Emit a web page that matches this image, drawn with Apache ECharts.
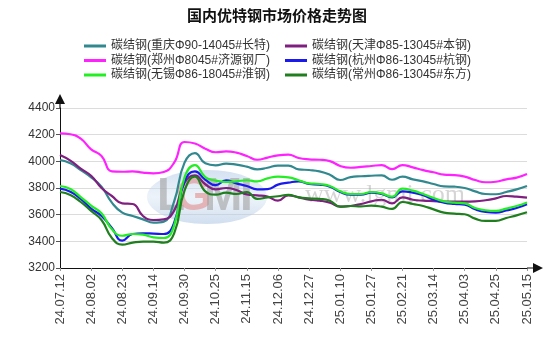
<!DOCTYPE html>
<html>
<head>
<meta charset="utf-8">
<script src="https://cdn.jsdelivr.net/npm/echarts@6/dist/echarts.min.js"></script>
<style>
  html, body { margin: 0; padding: 0; background: #fff; }
  #chart { width: 554px; height: 347px; }
</style>
</head>
<body>
<div id="chart"></div>
<script>
// Date labels on the x axis, one every three samples
const tickLabels = ['24.07.12','24.08.02','24.08.23','24.09.14','24.09.30','24.10.25','24.11.15','24.12.06',
  '24.12.27','25.01.10','25.01.27','25.02.21','25.03.14','25.04.03','25.04.25','25.05.15'];
const samplesPerTick = 3;

const seriesNames = [
  '碳结钢(重庆Φ90-14045#长特)',
  '碳结钢(天津Φ85-13045#本钢)',
  '碳结钢(郑州Φ8045#济源钢厂)',
  '碳结钢(杭州Φ86-13045#杭钢)',
  '碳结钢(无锡Φ86-18045#淮钢)',
  '碳结钢(常州Φ86-13045#东方)'
];

// Prices (元/吨)
const chongqing = [4010,3985,3935,3880,3810,3690,3615,3590,3565,3540,3548,3700,3990,4062,3985,3970,
  3983,3975,3960,3940,3952,3968,3968,3940,3935,3925,3900,3860,3882,3888,3892,3895,3862,3885,3865,3850,
  3830,3812,3810,3800,3775,3755,3753,3770,3790,3815];
const tianjin = [4047,4005,3945,3892,3800,3740,3685,3680,3590,3560,3565,3630,3840,3895,3828,3790,
  3800,3785,3752,3745,3735,3705,3745,3730,3712,3705,3690,3660,3665,3680,3700,3712,3685,3730,3712,3705,
  3702,3698,3698,3698,3700,3708,3722,3740,3735,3728];
const zhengzhou = [4210,4203,4170,4090,4040,3925,3922,3925,3915,3910,3920,3990,4145,4134,4095,4068,
  4075,4065,4040,4012,4028,4045,4050,4025,4015,4012,4002,3965,3952,3958,3965,3972,3942,3972,3955,3934,
  3918,3900,3897,3885,3860,3843,3847,3865,3878,3905];
const hangzhou = [3795,3772,3718,3645,3590,3500,3405,3455,3460,3458,3455,3540,3850,3925,3862,3822,
  3858,3835,3815,3790,3792,3825,3840,3850,3830,3825,3810,3770,3750,3750,3765,3755,3730,3775,3765,3745,
  3712,3690,3680,3675,3640,3620,3615,3632,3650,3678];
const wuxi = [3815,3792,3732,3668,3610,3490,3442,3455,3450,3430,3425,3520,3880,3972,3882,3855,
  3845,3850,3858,3850,3872,3885,3880,3858,3835,3830,3815,3775,3755,3755,3770,3760,3735,3795,3780,3755,
  3725,3700,3690,3685,3650,3633,3628,3645,3665,3692];
const changzhou = [3770,3748,3695,3628,3560,3425,3375,3390,3398,3398,3390,3460,3780,3885,3775,3750,
  3765,3755,3770,3718,3730,3738,3748,3730,3722,3718,3705,3660,3665,3662,3668,3660,3643,3695,3680,3665,
  3640,3615,3608,3603,3570,3553,3553,3575,3595,3618];

const seriesValues = [chongqing, tianjin, zhengzhou, hangzhou, wuxi, changzhou];
const seriesColors = ['#31898f', '#7f1f7f', '#ff22ff', '#1a1aee', '#22ee22', '#1f7f1f'];

const yTicks = { min: 3200, max: 4400, step: 200 };

const fontLatin = '"Liberation Sans", Arial, "Noto Sans CJK SC", sans-serif';

const chart = echarts.init(document.getElementById('chart'), null, { renderer: 'canvas' });

const series = seriesValues.map((vals, k) => ({
  name: seriesNames[k],
  type: 'line',
  smooth: true,
  showSymbol: false,
  symbol: 'none',
  data: vals.map((v, i) => [i, v]),
  lineStyle: { color: seriesColors[k], width: 2.2 },
  itemStyle: { color: seriesColors[k] },
  z: 3 + k
}));

// Arrowheads with a short stem, drawn at the far end of each axis line
const arrowX = 'path://M5,0L10,10L5.6,10L5.6,16L4.4,16L4.4,10L0,10Z';
const arrowY = 'path://M5,0L10,10L5.6,10L5.6,14L4.4,14L4.4,10L0,10Z';

const legendText = { fontSize: 12, color: '#333', fontFamily: fontLatin, lineHeight: 14 };

chart.setOption({
  animation: false,
  backgroundColor: '#fff',
  title: {
    text: '国内优特钢市场价格走势图',
    left: 'center',
    top: 3,
    textStyle: { fontSize: 15, fontWeight: 'bold', color: '#111', fontFamily: '"Noto Sans CJK SC", sans-serif' }
  },
  legend: [
    {
      orient: 'vertical', left: 79, top: 34, itemGap: 0.5,
      itemWidth: 22, itemHeight: 3, icon: 'rect',
      textStyle: legendText,
      data: [seriesNames[0], seriesNames[2], seriesNames[4]]
    },
    {
      orient: 'vertical', left: 280, top: 34, itemGap: 0.5,
      itemWidth: 22, itemHeight: 3, icon: 'rect',
      textStyle: legendText,
      data: [seriesNames[1], seriesNames[3], seriesNames[5]]
    }
  ],
  grid: { left: 60, right: 27, top: 108, bottom: 79, containLabel: false },
  xAxis: {
    type: 'value',
    min: 0,
    max: (tickLabels.length - 1) * samplesPerTick,
    interval: samplesPerTick,
    axisLine: { show: true, symbol: ['none', arrowX], symbolSize: [10, 16], symbolOffset: [0, 8],
      lineStyle: { color: '#111', width: 1 } },
    axisTick: { show: true, length: 3, lineStyle: { color: '#999' } },
    splitLine: { show: false },
    axisLabel: {
      rotate: 90, margin: 6, fontSize: 13, color: '#444', fontFamily: fontLatin,
      formatter: v => (v % samplesPerTick === 0 ? (tickLabels[v / samplesPerTick] || '') : '')
    }
  },
  yAxis: {
    type: 'value',
    min: yTicks.min,
    max: yTicks.max,
    interval: yTicks.step,
    axisLine: { show: true, symbol: ['none', arrowY], symbolSize: [10, 14], symbolOffset: [0, 7],
      lineStyle: { color: '#111', width: 1 } },
    axisTick: { show: true, length: 4, lineStyle: { color: '#555' } },
    splitLine: { show: true, lineStyle: { color: '#dcdcdc', width: 1 } },
    axisLabel: { margin: 5, fontSize: 12, color: '#333', fontFamily: fontLatin, formatter: v => String(v) }
  },
  graphic: [
    {
      type: 'ellipse', z: 1, silent: true,
      shape: { cx: 207, cy: 197, rx: 60, ry: 27 },
      style: {
        fill: new echarts.graphic.LinearGradient(0, 0, 0, 1, [
          { offset: 0, color: 'rgba(175,200,230,0.55)' },
          { offset: 0.5, color: 'rgba(215,228,243,0.45)' },
          { offset: 1, color: 'rgba(170,195,225,0.55)' }
        ])
      }
    },
    { type: 'text', z: 1, silent: true, x: 157, y: 174,
      style: { text: 'L', font: 'bold 46px "Liberation Sans", Arial', fill: 'rgba(160,160,160,0.6)' } },
    { type: 'text', z: 1, silent: true, x: 176, y: 174,
      style: { text: 'G', font: 'bold 46px "Liberation Sans", Arial', fill: 'rgba(225,140,140,0.6)' } },
    { type: 'text', z: 1, silent: true, x: 204, y: 174,
      style: { text: 'M', font: 'bold 46px "Liberation Sans", Arial', fill: 'rgba(160,160,160,0.6)' } },
    { type: 'text', z: 1, silent: true, x: 240, y: 174,
      style: { text: 'I', font: 'bold 46px "Liberation Sans", Arial', fill: 'rgba(160,160,160,0.6)' } },
    { type: 'text', z: 1, silent: true, x: 305, y: 182,
      style: { text: 'www.lgmi.com', font: '26px "Liberation Serif", "DejaVu Serif", serif', fill: 'rgba(150,150,150,0.4)' } }
  ],
  series: series
});
</script>
</body>
</html>
